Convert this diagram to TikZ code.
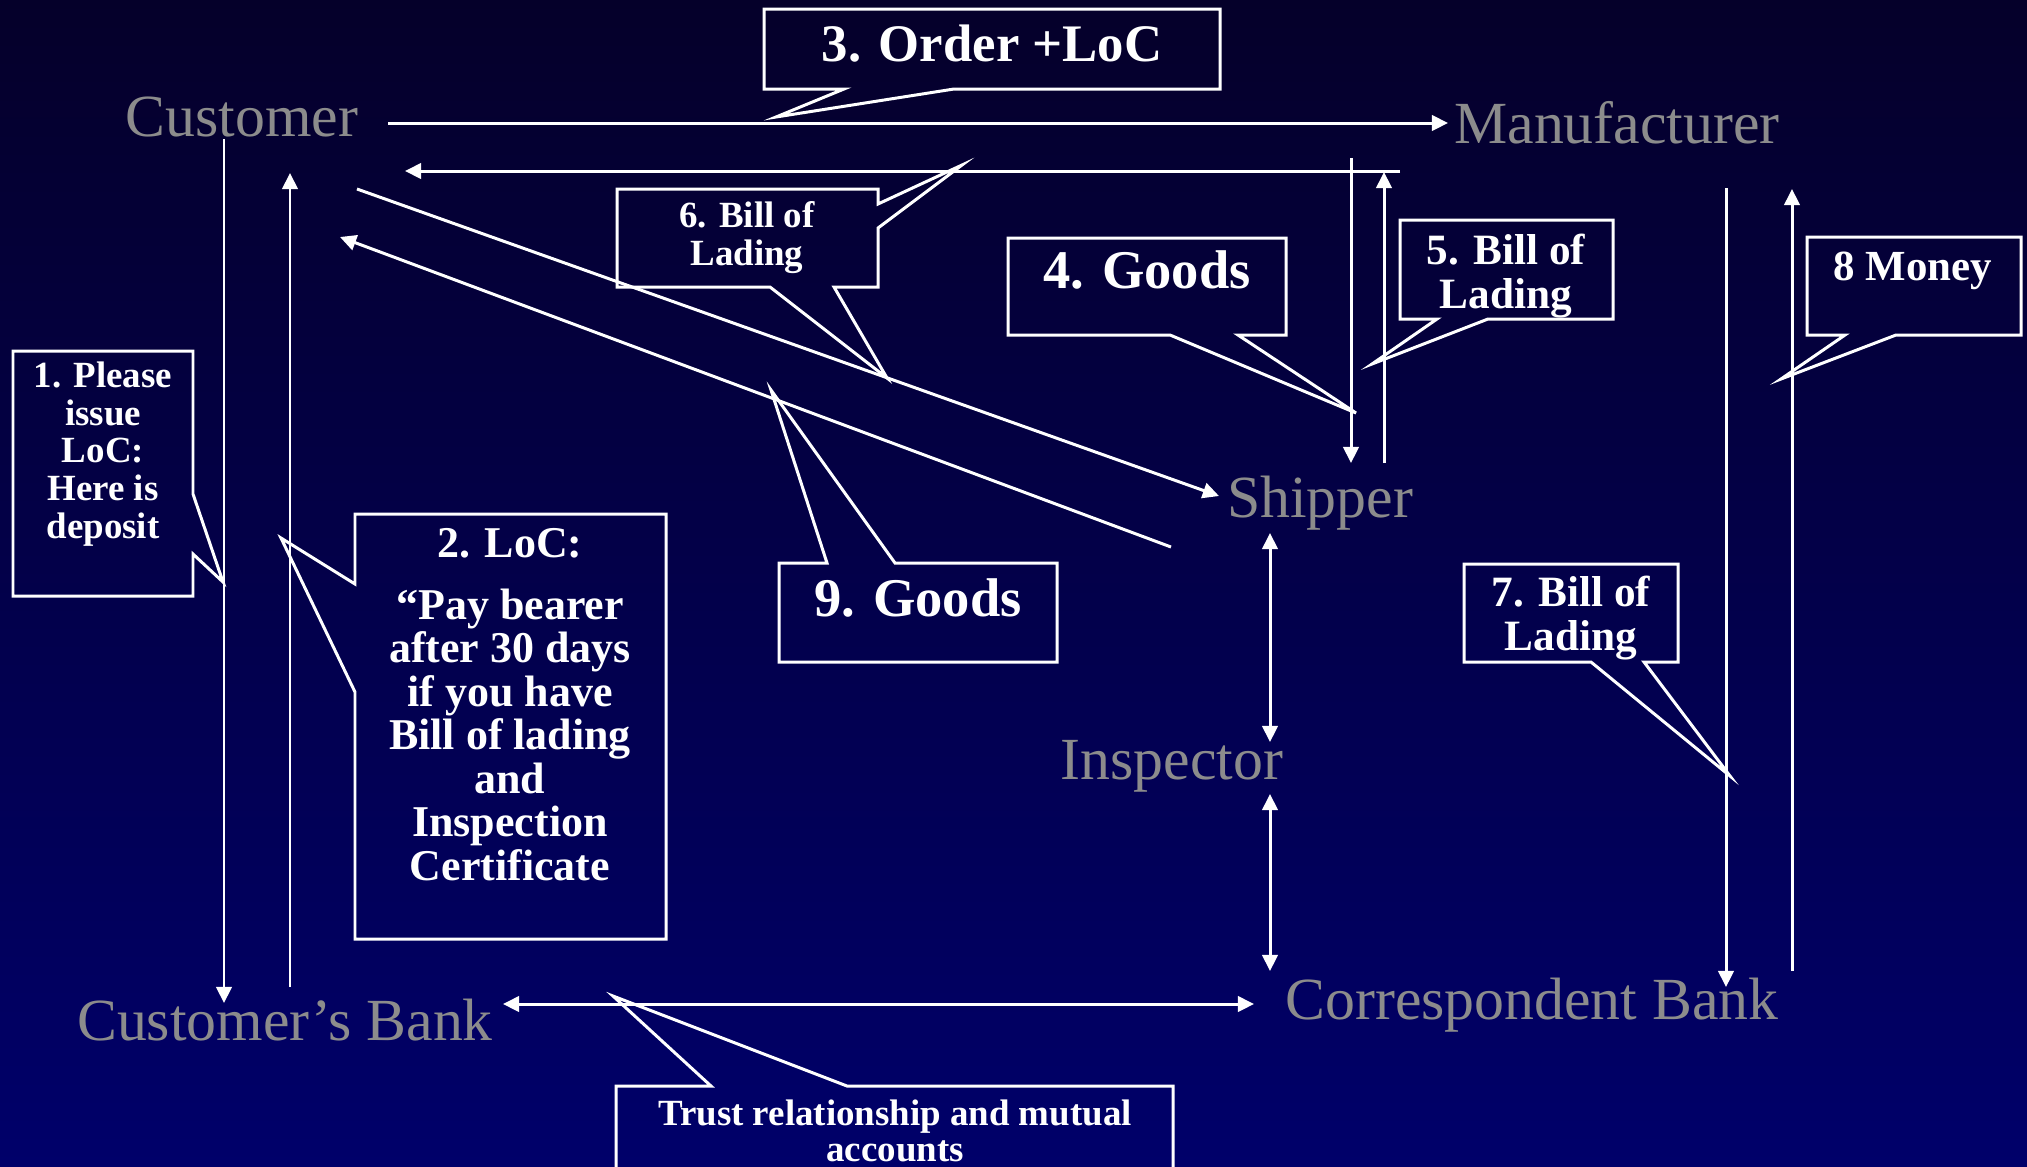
\documentclass[tikz,border=0pt]{standalone}
\usepackage{fontspec}
\setmainfont{Liberation Serif}
\usetikzlibrary{calc,arrows.meta}
\definecolor{slidetop}{RGB}{5,0,42}
\definecolor{slidemid}{RGB}{0,0,95}
\definecolor{slidebottom}{RGB}{0,0,106}
\definecolor{partygrey}{RGB}{140,140,140}
\tikzset{
  party/.style={anchor=base, inner sep=0pt, text=partygrey, font=\fontsize{17}{20}\selectfont},
  note/.style 2 args={anchor=base, inner sep=0pt, text=white, align=center, font=\fontsize{#1}{#2}\selectfont\bfseries},
  notebox/.style={draw=white, line width=0.85pt, line join=miter},
  flow/.style={draw=white, line width=0.85pt, -{Triangle[length=4.6pt,width=4.4pt]}},
  twoway/.style={flow, {Triangle[length=4.6pt,width=4.4pt]}-{Triangle[length=4.6pt,width=4.4pt]}},
}
\begin{document}
\begin{tikzpicture}[x=0.01cm, y=-0.01cm]
  \useasboundingbox (0,0) rectangle (2027,1166);
  \shade[top color=slidetop, middle color=slidemid, bottom color=slidebottom] (0,0) rectangle (2027,1166);
  % parties
  \node[party] (customer) at (242,136) {Customer};
  \node[party] (manufacturer) at (1617,143) {Manufacturer};
  \node[party] (shipper) at (1320,517) {Shipper};
  \node[party] (inspector) at (1172,779) {Inspector};
  \node[party] (custbank) at (285,1040) {Customer's Bank};
  \node[party] (corrbank) at (1532,1019) {Correspondent Bank};
  % callout outlines
  \draw[notebox] (764,9) -- (1220,9) -- (1220,89) -- (954,89) -- (776,117) -- (844,89) -- (764,89) -- cycle;
  \draw[notebox] (617,189) -- (878,189) -- (878,204) -- (962,165) -- (878,228) -- (878,287) -- (834,287) -- (887,378) -- (770,287) -- (617,287) -- cycle;
  \draw[notebox] (1008,238) -- (1286,238) -- (1286,335) -- (1238,335) -- (1356,413) -- (1170,335) -- (1008,335) -- cycle;
  \draw[notebox] (1400,220) -- (1613,220) -- (1613,319) -- (1488,319) -- (1372,364) -- (1437,319) -- (1400,319) -- cycle;
  \draw[notebox] (1807,237) -- (2021,237) -- (2021,335) -- (1896,335) -- (1781,379) -- (1845,335) -- (1807,335) -- cycle;
  \draw[notebox] (1464,564) -- (1678,564) -- (1678,662) -- (1644,662) -- (1730,776) -- (1591,662) -- (1464,662) -- cycle;
  \draw[notebox] (779,563) -- (827,563) -- (771,390) -- (895,563) -- (1057,563) -- (1057,662) -- (779,662) -- cycle;
  \draw[notebox] (13,351) -- (193,351) -- (193,494) -- (223,582) -- (193,554) -- (193,596) -- (13,596) -- cycle;
  \draw[notebox] (355,514) -- (666,514) -- (666,939) -- (355,939) -- (355,692) -- (281,538) -- (355,584) -- cycle;
  \draw[notebox] (616,1180) -- (616,1086) -- (711,1086) -- (613,996) -- (847,1086) -- (1173,1086) -- (1173,1180);
  % callout texts (base = last line)
  \node[note={15}{18}] (order) at (992,61) {3. Order +LoC};
  \node[note={10.5}{10.8}] (lading6) at (747,265) {6. Bill of\\Lading};
  \node[note={15.5}{18}] (goods4) at (1147,288) {4. Goods};
  \node[note={12.3}{12.5}] (lading5) at (1506,308) {5. Bill of\\Lading};
  \node[note={12.2}{14}] (money) at (1913,280) {8 Money};
  \node[note={12.3}{12.5}] (lading7) at (1571,650) {7. Bill of\\Lading};
  \node[note={15.5}{18}] (goods9) at (918,616) {9. Goods};
  \node[note={10.5}{10.7}] (deposit) at (103,538) {1. Please\\issue\\LoC:\\Here is\\deposit};
  \node[note={12.5}{12.35}] (loc) at (510,880) {2. LoC:\\[5.3pt]``Pay bearer\\after 30 days\\if you have\\Bill of lading\\and\\Inspection\\Certificate};
  \node[note={10.5}{10.2}] (trust) at (895,1161) {Trust relationship and mutual\\accounts};
  % flows
  \draw[flow] ($(customer.base)+(146,-13)$) -- ($(manufacturer.base)+(-169,-20)$);
  \draw[flow] ($(manufacturer.base)+(-217,28)$) -- ($(customer.base)+(163,35)$);
  \draw[flow] ($(manufacturer.base)+(-266,15)$) -- ($(shipper.base)+(31,-54)$);
  \draw[flow] ($(shipper.base)+(64,-54)$) -- ($(manufacturer.base)+(-233,29)$);
  \draw[flow] ($(customer.base)+(115,53)$) -- ($(shipper.base)+(-101,-21)$);
  \draw[flow] ($(shipper.base)+(-149,30)$) -- ($(customer.base)+(98,101)$);
  \draw[twoway] ($(inspector.base)+(98,-37)$) -- ($(shipper.base)+(-50,16)$);
  \draw[twoway] ($(inspector.base)+(98,15)$) -- ($(corrbank.base)+(-262,-48)$);
  \draw[twoway] ($(custbank.base)+(218,-36)$) -- ($(corrbank.base)+(-278,-15)$);
  \draw[flow] ($(customer.base)+(-18,3)$) -- ($(custbank.base)+(-61,-37)$);
  \draw[flow] ($(custbank.base)+(5,-53)$) -- ($(customer.base)+(48,37)$);
  \draw[flow] ($(manufacturer.base)+(109,45)$) -- ($(corrbank.base)+(194,-32)$);
  \draw[flow] ($(corrbank.base)+(260,-48)$) -- ($(manufacturer.base)+(175,46)$);
\end{tikzpicture}
\end{document}
